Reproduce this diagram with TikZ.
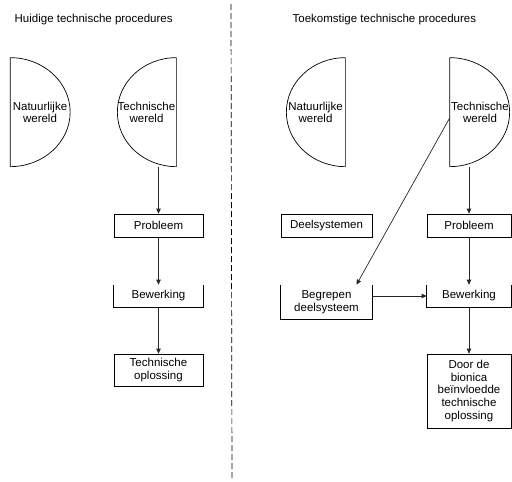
\documentclass[tikz,border=0pt]{standalone}
\usepackage{fontspec}
\setmainfont{Liberation Sans}
\usetikzlibrary{arrows.meta}
\begin{document}
\begin{tikzpicture}[x=1pt, y=-1pt, line width=0.7pt,
    font=\fontsize{11.5}{12.7}\selectfont,
    world/.style = {minimum width=59, minimum height=109, inner sep=0, align=center},
    box/.style = {draw, minimum width=89, minimum height=23, inner sep=0, align=center},
    openbox/.style = {minimum width=89, minimum height=22, inner sep=0, align=center},
    arr/.style = {-{Triangle[width=4.5pt,length=5pt]}, black!85}]
    \useasboundingbox (0,0) rectangle (512,482);
    % titels
    \node[anchor=west] (titleL) at (11,20) {Huidige technische procedures};
    \node[anchor=west] (titleR) at (289,20) {Toekomstige technische procedures};
    \draw[dash pattern=on 6pt off 3pt] (231,4) -- (232,480);
    % huidig
    \node[world] (natL) at (40,112.5) {Natuurlijke\\wereld};
    \node[world] (techL) at (146.5,112.5) {Technische\\wereld};
    \draw (natL.north west) arc[start angle=-90, end angle=90, x radius=60, y radius=54.5] -- cycle;
    \draw (techL.north east) arc[start angle=-90, end angle=-270, x radius=59, y radius=54.5] -- cycle;
    \node[box] (probL) at (158.5,225.5) {Probleem};
    \node[openbox] (bewL) at (158.5,296) {Bewerking};
    \node[box, minimum height=32] (oplL) at (158.5,370) {Technische\\oplossing};
    \draw (bewL.north west) |- (bewL.south east) -- (bewL.north east);
    \draw[arr] (techL.south -| probL.north) -- (probL.north);
    \draw[arr] (probL) -- (bewL);
    \draw[arr] (bewL) -- (oplL);
    % toekomstig
    \node[world] (natR) at (315.5,112.5) {Natuurlijke\\wereld};
    \node[world, minimum width=60] (techR) at (480,112.5) {Technische\\wereld};
    \draw (natR.north east) arc[start angle=-90, end angle=-270, x radius=59, y radius=54.5] -- cycle;
    \draw (techR.north west) arc[start angle=-90, end angle=90, x radius=60, y radius=54.5] -- cycle;
    \node[box, minimum width=91] (deel) at (326.5,225.5) {Deelsystemen};
    \node[openbox, minimum width=91, minimum height=34] (begr) at (326.5,302) {Begrepen\\deelsysteem};
    \draw (begr.north west) |- (begr.south east) -- (begr.north east);
    \node[box, minimum width=84] (probR) at (469,225.5) {Probleem};
    \node[openbox, minimum width=84] (bewR) at (469,296) {Bewerking};
    \draw (bewR.north west) |- (bewR.south east) -- (bewR.north east);
    \node[box, minimum width=84, minimum height=74] (door) at (469,391) {Door de\\bionica\\beïnvloedde\\technische\\oplossing};
    \draw[arr] (techR.south -| probR.north) -- (probR.north);
    \draw[arr] (probR) -- (bewR);
    \draw[arr] (bewR) -- (door);
    \draw[arr] ([yshift=-5.5pt]techR.west) -- ([xshift=30pt]begr.north);
    \draw[arr] (begr.east |- bewR.west) -- (bewR.west);
\end{tikzpicture}
\end{document}
